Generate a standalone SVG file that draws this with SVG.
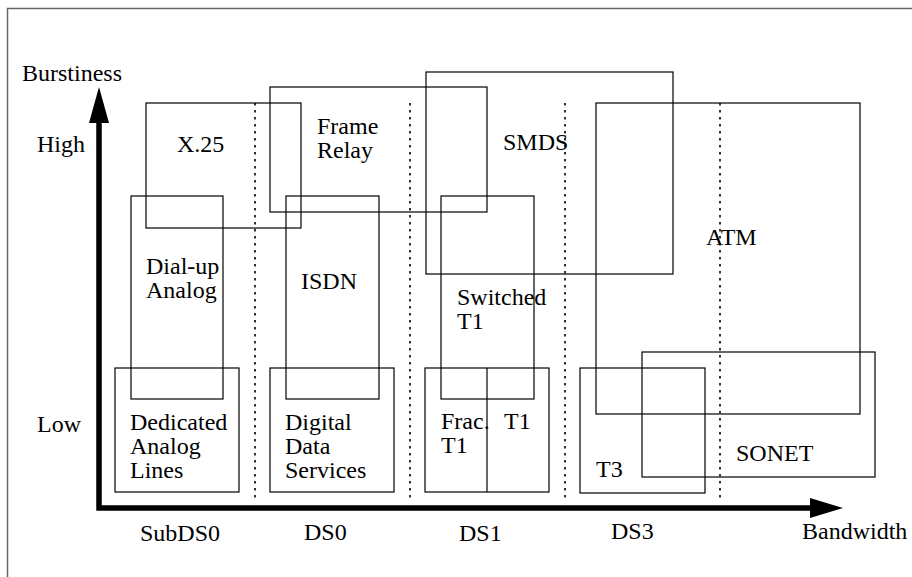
<svg xmlns="http://www.w3.org/2000/svg" width="912" height="577" viewBox="0 0 912 577">
<defs>
<style>
text{font-family:"Liberation Serif","Times New Roman",serif;font-size:24px;fill:#000}
.box{fill:none;stroke:#000;stroke-width:1.2}
.dot{fill:none;stroke:#000;stroke-width:1.6;stroke-dasharray:2.5,4.5}
.axis{fill:none;stroke:#000;stroke-width:5.5}
.head{fill:#000;stroke:none}
</style>
</defs>
<rect width="912" height="577" fill="#fff"/>
<rect x="7.5" y="8.5" width="1000" height="1000" fill="none" stroke="#666" stroke-width="1.5"/>

<g id="dividers">
<line class="dot" x1="255" y1="103" x2="255" y2="499"/>
<line class="dot" x1="410" y1="103" x2="410" y2="499"/>
<line class="dot" x1="565" y1="103" x2="565" y2="499"/>
<line class="dot" x1="720" y1="103" x2="720" y2="499"/>
</g>

<g id="x25"><rect class="box" x="146" y="103" width="155" height="125"/><text x="177" y="152">X.25</text></g>
<g id="frame-relay"><rect class="box" x="270" y="87" width="217" height="125"/><text x="317" y="134">Frame</text><text x="317" y="158">Relay</text></g>
<g id="smds"><rect class="box" x="426" y="72" width="247" height="202"/><text x="503" y="150">SMDS</text></g>
<g id="atm"><rect class="box" x="596" y="103" width="264" height="311"/><text x="706" y="245">ATM</text></g>
<g id="dialup"><rect class="box" x="131" y="196" width="92" height="203"/><text x="146" y="274">Dial-up</text><text x="146" y="298">Analog</text></g>
<g id="isdn"><rect class="box" x="286" y="196" width="93" height="203"/><text x="301" y="289">ISDN</text></g>
<g id="switched-t1"><rect class="box" x="441" y="196" width="93" height="203"/><text x="457" y="305">Switched</text><text x="457" y="329">T1</text></g>
<g id="dedicated"><rect class="box" x="115" y="368" width="124" height="124"/><text x="130" y="430">Dedicated</text><text x="130" y="454">Analog</text><text x="130" y="478">Lines</text></g>
<g id="dds"><rect class="box" x="270" y="368" width="124" height="124"/><text x="285" y="430">Digital</text><text x="285" y="454">Data</text><text x="285" y="478">Services</text></g>
<g id="frac-t1"><rect class="box" x="425" y="368" width="124" height="124"/><line class="box" x1="487" y1="368" x2="487" y2="492"/><text x="441" y="429">Frac.</text><text x="441" y="453">T1</text><text x="504" y="429">T1</text></g>
<g id="t3"><rect class="box" x="580" y="368" width="125" height="125"/><text x="596" y="477">T3</text></g>
<g id="sonet"><rect class="box" x="642" y="352" width="233" height="125"/><text x="736" y="461">SONET</text></g>

<g id="axes">
<polyline class="axis" points="99,118 99,508 815,508"/>
<polygon class="head" points="99,87 89,123 109,123"/>
<polygon class="head" points="843,508 810,498 810,518"/>
</g>

<g id="labels">
<text x="22" y="81">Burstiness</text>
<text x="37" y="152">High</text>
<text x="37" y="432">Low</text>
<text x="140" y="541">SubDS0</text>
<text x="304" y="540">DS0</text>
<text x="459" y="541">DS1</text>
<text x="611" y="539">DS3</text>
<text x="802" y="539">Bandwidth</text>
</g>
</svg>
